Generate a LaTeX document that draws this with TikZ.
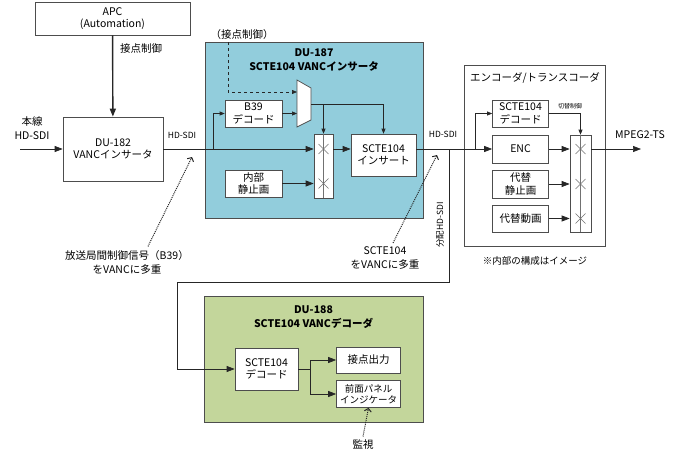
\documentclass[tikz,border=0pt]{standalone}
\usepackage{fontspec}
\setmainfont{Noto Sans CJK JP}
\usetikzlibrary{arrows.meta}
\definecolor{blueunit}{HTML}{92CDDC}
\definecolor{greenunit}{HTML}{C3D69B}
\definecolor{edge}{HTML}{4D4D4D}
\definecolor{wire}{HTML}{262626}
\begin{document}
\begin{tikzpicture}[x=1pt, y=-1pt, line width=0.7pt,
  box/.style={draw=edge, fill=white, align=center, inner sep=1pt, font=\fontsize{10.5}{12.5}\selectfont},
  unit/.style={draw=edge, fill=#1},
  title/.style={align=center, font=\bfseries\fontsize{10.5}{14}\selectfont},
  lbl/.style={align=center, font=\fontsize{10.5}{14}\selectfont},
  small/.style={font=\fontsize{8.5}{10}\selectfont},
  muxbox/.style={draw=edge, fill=white},
  xline/.style={draw=edge!80, line width=0.5pt},
  sig/.style={draw=wire, -{Triangle[length=8pt,width=6pt]}},
  sigs/.style={draw=wire, -{Triangle[length=5pt,width=4pt]}},
  hint/.style={draw=wire, densely dotted, line width=1pt, -{Straight Barb[length=3pt,width=7pt]}}]
\useasboundingbox (0,0) rectangle (675,463);

\node (du187) at (314,130) [unit=blueunit, minimum width=218pt, minimum height=176pt] {};
\node (enccase) at (534.5,156) [unit=white, minimum width=141pt, minimum height=181pt] {};
\node (du188) at (313.5,359) [unit=greenunit, minimum width=219pt, minimum height=126pt] {};

\node (apc) at (112.5,18.5) [box, minimum width=155pt, minimum height=33pt] {APC\\(Automation)};
\node (du182) at (113,149) [box, minimum width=100pt, minimum height=64pt] {DU-182\\VANCインサータ};
\node (b39) at (253.5,113.5) [box, minimum width=57pt, minimum height=27pt] {B39\\デコード};
\node (still) at (253.5,183.5) [box, minimum width=57pt, minimum height=27pt] {内部\\静止画};
\node (xb1) at (323.5,166) [box, minimum width=19pt, minimum height=64pt] {};
\node (ins) at (383.5,155) [box, minimum width=65pt, minimum height=42pt] {SCTE104\\インサート};
\node (dec2) at (520.5,113.5) [box, minimum width=56pt, minimum height=27pt] {SCTE104\\デコード};
\node (enc) at (520.5,149) [box, minimum width=56pt, minimum height=28pt] {ENC};
\node (alt1) at (520.5,184) [box, minimum width=56pt, minimum height=28pt] {代替\\静止画};
\node (alt2) at (520.5,218.5) [box, minimum width=56pt, minimum height=27pt] {代替動画};
\node (xb2) at (580.5,183.5) [box, minimum width=21pt, minimum height=97pt] {};
\node (dec3) at (266.5,369) [box, minimum width=63pt, minimum height=42pt] {SCTE104\\デコード};
\node (cont) at (368.5,360) [box, minimum width=64pt, minimum height=26pt] {接点出力};
\node (panel) at (368.5,394) [box, minimum width=64pt, minimum height=27pt, font=\fontsize{9.5}{11.5}\selectfont] {前面パネル\\インジケータ};

\node (t187) at (314,60) [title] {DU-187\\SCTE104 VANCインサータ};
\node (t188) at (313.5,317) [title] {DU-188\\SCTE104 VANCデコーダ};
\node (tenc) at (535,78) [lbl] {エンコーダ/トランスコーダ};
\node (ctlLabel) at (242,35) [lbl] {（接点制御）};
\node (apcLabel) at (141,49) [lbl] {接点制御};
\node (inLabel) at (32,128) [lbl] {本線\\HD-SDI};
\node (sdi1) at (182,135) [small] {HD-SDI};
\node (sdi2) at (443,134) [small] {HD-SDI};
\node (sdi3) at (440,225) [small, rotate=90] {分配HD-SDI};
\node (tsLabel) at (640,135) [lbl] {MPEG2-TS};
\node (swLabel) at (570,106) [font=\fontsize{6}{7}\selectfont] {切替制御};
\node (note1) at (127,262) [lbl] {放送局間制御信号（B39）\\をVANCに多重};
\node (note2) at (385,258) [lbl] {SCTE104\\をVANCに多重};
\node (note3) at (535,261) [lbl, font=\fontsize{9.5}{11}\selectfont] {※内部の構成はイメージ};
\node (watch) at (363,445) [lbl] {監視};

\draw[muxbox] (297,80) -- (311,88) -- (311,120) -- (297,127) -- cycle;
\coordinate (muxa) at (297,92);
\coordinate (muxb) at (297,113.5);
\coordinate (muxo) at (311,104);
\coordinate (in) at (20,149);
\coordinate (ctl) at (228,42);
\coordinate (tap1) at (213,149);
\coordinate (tap3) at (475,149);
\coordinate (tap4) at (449,149);
\coordinate (bend) at (177,282);
\coordinate (out) at (641,149);
\coordinate (hint1) at (192,157);
\coordinate (hint2) at (437,155);

\draw[xline] (xb1.north) -- (xb1.south);
\draw[xline] (xb2.north) -- (xb2.south);
\foreach \y in {149,183.5}
  \draw[xline] (318.5,\y-5) -- (328.5,\y+5) (318.5,\y+5) -- (328.5,\y-5);
\foreach \y in {149,184,218.5}
  \draw[xline] (575.5,\y-5) -- (585.5,\y+5) (575.5,\y+5) -- (585.5,\y-5);

\draw[sig] (in) -- (du182);
\draw[sig, line width=1.4pt] (apc) -- (du182);
\draw[sig] (du182.east) -- (xb1.west |- du182.east);
\draw[sigs] (tap1) |- (b39.west);
\draw[sigs, dashed] (ctl) |- (muxa);
\draw[sigs] (b39.east) -- (muxb);
\draw[sigs] (muxo) -| (ins.north);
\draw[sigs] (muxo -| xb1.north) -- (xb1.north);
\draw[sig] (still.east) -- (still.east -| xb1.west);
\draw[sig] (xb1.east |- du182.east) -- (ins.west |- du182.east);
\draw[sig] (ins.east |- du182.east) -- (enc.west);
\draw[sigs] (tap3) |- (dec2.west);
\draw[sigs] (dec2.east) -| (xb2.north);
\draw[sig] (enc.east) -- (enc.east -| xb2.west);
\draw[sig] (alt1.east) -- (alt1.east -| xb2.west);
\draw[sig] (alt2.east) -- (alt2.east -| xb2.west);
\draw[sig] (xb2.east |- enc.east) -- (out);
\draw[sig] (tap4) |- (bend) |- (dec3.west);
\draw[sig] (dec3.east) -- (310,369) |- (cont.west);
\draw[sig] (310,369) |- (panel.west);

\draw[hint] ([xshift=21pt]note1.north) -- (hint1);
\draw[hint] ([xshift=8pt]note2.north) -- (hint2);
\draw[hint] (watch.north) -- (panel.south);
\end{tikzpicture}
\end{document}
